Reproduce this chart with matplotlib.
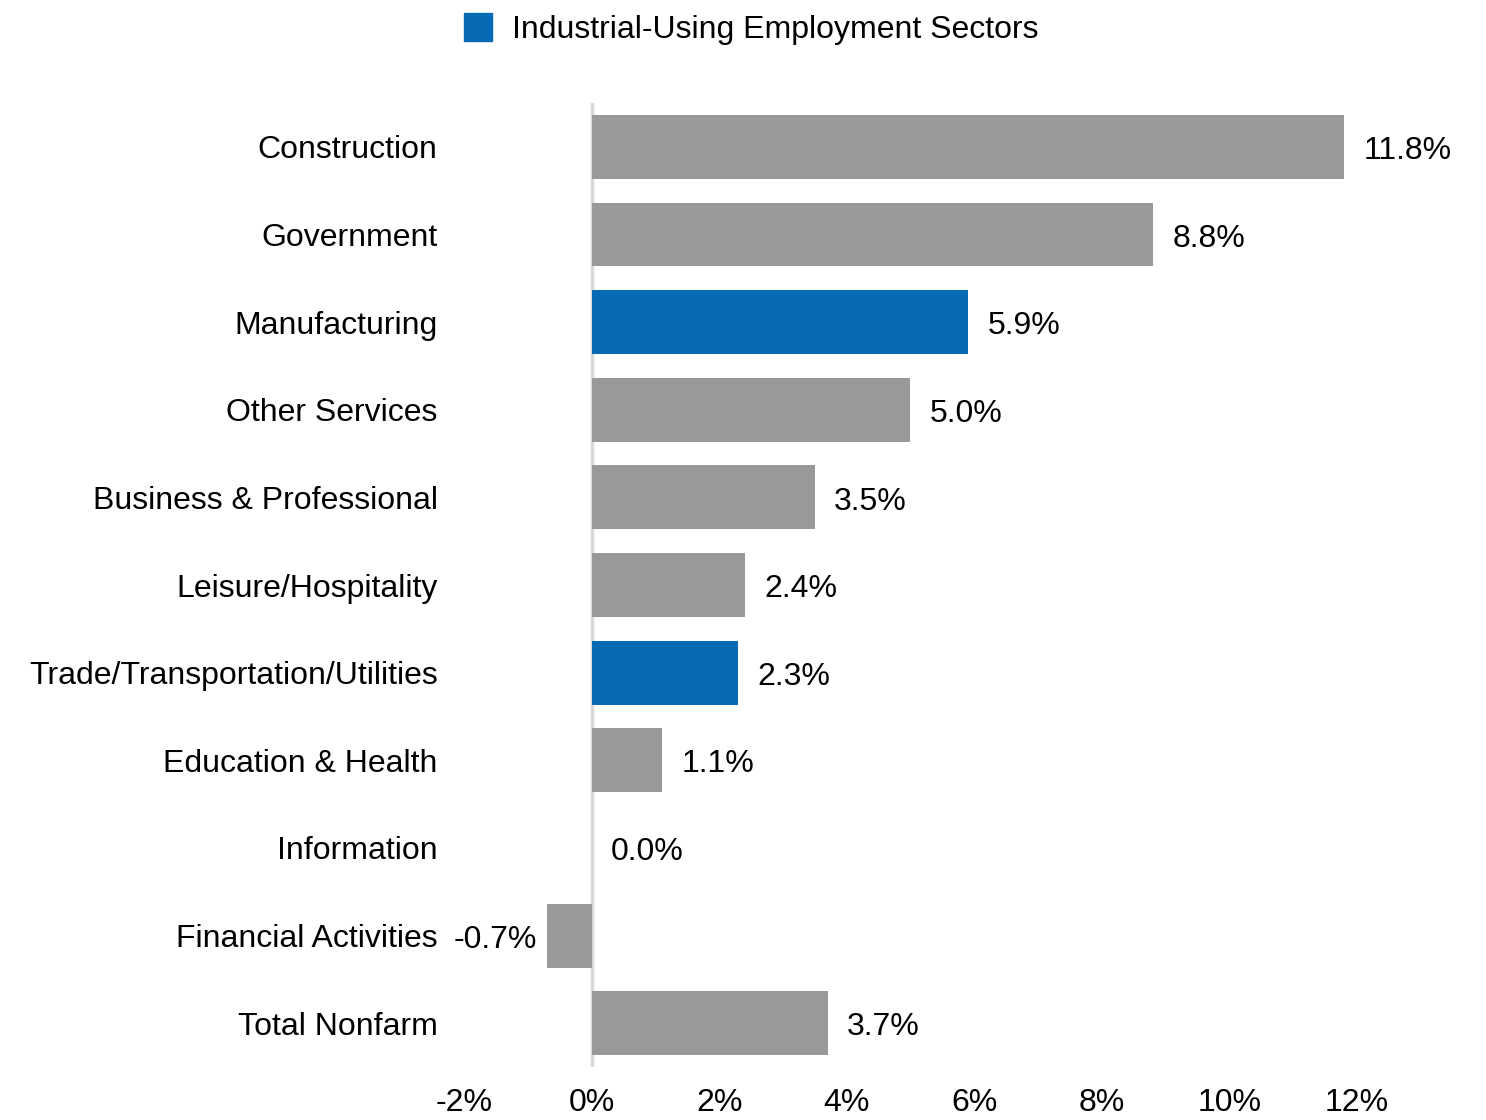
import matplotlib.pyplot as plt
from matplotlib.patches import Patch

plt.rcParams['font.family'] = ['Liberation Sans', 'DejaVu Sans']

sectors = ['Construction', 'Government', 'Manufacturing', 'Other Services',
           'Business & Professional', 'Leisure/Hospitality',
           'Trade/Transportation/Utilities', 'Education & Health',
           'Information', 'Financial Activities', 'Total Nonfarm']
growth = [11.8, 8.8, 5.9, 5.0, 3.5, 2.4, 2.3, 1.1, 0.0, -0.7, 3.7]
industrial = ['Manufacturing', 'Trade/Transportation/Utilities']
xticks = [-2, 0, 2, 4, 6, 8, 10, 12]

gray = '#999999'
blue = '#066AB4'
fs = 23

fig = plt.figure(figsize=(14.86, 11.2), dpi=100)
ax = fig.add_axes([0.3122, 0.0473, 0.601, 0.8607])

colors = [blue if s in industrial else gray for s in sectors]
ypos = list(range(len(sectors)))
ax.barh(ypos, growth, height=0.73, color=colors, zorder=2)
ax.axvline(0, color='#D9D9D9', lw=2.5, zorder=1)

for y, v in zip(ypos, growth):
    if v < 0:
        ax.annotate(f'{v:.1f}%', (v, y), xytext=(-7, -3), textcoords='offset points',
                    ha='right', va='center', fontsize=fs)
    else:
        ax.annotate(f'{v:.1f}%', (v, y), xytext=(14, -3), textcoords='offset points',
                    ha='left', va='center', fontsize=fs)

ax.set_xlim(-2, 12)
ax.set_ylim(len(sectors) - 0.5, -0.5)
ax.set_xticks(xticks)
ax.set_xticklabels([f'{t}%' for t in xticks])
ax.set_yticks(ypos)
ax.set_yticklabels(sectors)
ax.tick_params(axis='x', length=0, pad=15, labelsize=fs)
ax.tick_params(axis='y', length=0, pad=19, labelsize=fs)
for sp in ax.spines.values():
    sp.set_visible(False)

fig.legend(handles=[Patch(color=blue, label='Industrial-Using Employment Sectors')],
           loc='center', bbox_to_anchor=(0.5057, 0.974), frameon=False,
           fontsize=fs, handlelength=0.87, handleheight=0.95, handletextpad=0.65)

fig.savefig('out.png', dpi=100)
